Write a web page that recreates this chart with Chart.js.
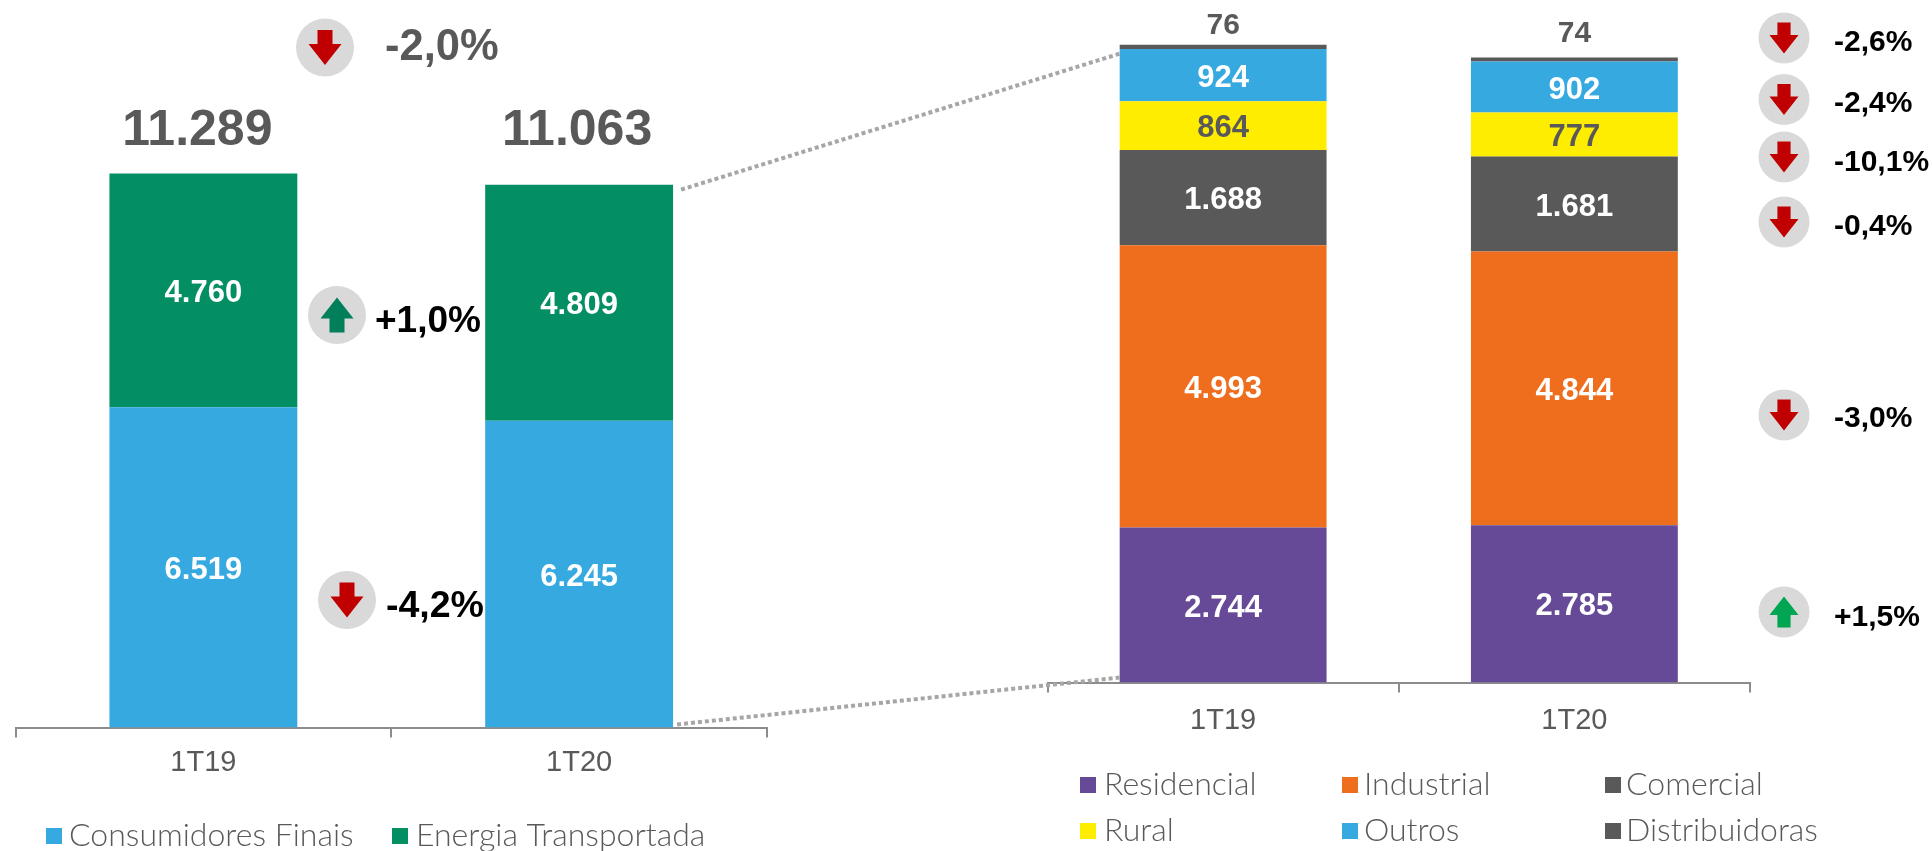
<!DOCTYPE html>
<html lang="pt">
<head>
<meta charset="utf-8">
<title>Energia</title>
<script src="https://cdn.jsdelivr.net/npm/chart.js@4"></script>
<style>
    html, body { margin: 0; padding: 0; background: #fff; overflow: hidden; }
    #wrap { position: relative; width: 1932px; height: 851px; }
    canvas { position: absolute; left: 0; top: 0; }
</style>
</head>
<body>
<div id="wrap">
    <canvas id="leftChart" width="1932" height="851"></canvas>
    <canvas id="rightChart" width="1932" height="851"></canvas>
</div>
<script>
// Data
const periods = ["1T19", "1T20"];

const consumidoresFinais = [6519, 6245];
const energiaTransportada = [4760, 4809];
const totalLabels = ["11.289", "11.063"];

const residencial = [2744, 2785];
const industrial = [4993, 4844];
const comercial = [1688, 1681];
const rural = [864, 777];
const outros = [924, 902];
const distribuidoras = [76, 74];

const changeTotal = "-2,0%";
const changeLeft = ["-4,2%", "+1,0%"];
const changeRight = ["+1,5%", "-3,0%", "-0,4%", "-10,1%", "-2,4%", "-2,6%"];

// Colours
const BLUE = "#36A9E1";
const GREEN = "#038F63";
const PURPLE = "#674A97";
const ORANGE = "#EF6E1E";
const GREY = "#595959";
const YELLOW = "#FFED00";
const AXIS = "#8C8C8C";
const BADGE = "#D9D9D9";
const ARROW_DOWN = "#C00000";
const ARROW_UP_DARK = "#007F5A";
const ARROW_UP = "#00A651";

const SANS = "'Liberation Sans', Arial, sans-serif";
const LEGEND_FONT = "300 32px Lato, sans-serif";

function fmt(n) {
    return n.toLocaleString("de-DE");
}

function text(ctx, str, x, y, font, color, align) {
    ctx.font = font;
    ctx.fillStyle = color;
    ctx.textAlign = align || "center";
    ctx.textBaseline = "middle";
    ctx.fillText(str, x, y);
}

// Grey badge with an arrow inside
function badge(ctx, cx, cy, d, up, color) {
    ctx.fillStyle = BADGE;
    ctx.beginPath();
    ctx.arc(cx, cy, d / 2, 0, Math.PI * 2);
    ctx.fill();

    const s = d / 58;
    const dir = up ? -1 : 1;
    const tip = cy + dir * 17.5 * s;
    const back = cy - dir * 17.5 * s;
    const neck = cy - dir * 3.5 * s;
    ctx.fillStyle = color;
    ctx.beginPath();
    ctx.moveTo(cx - 7.5 * s, back);
    ctx.lineTo(cx + 7.5 * s, back);
    ctx.lineTo(cx + 7.5 * s, neck);
    ctx.lineTo(cx + 16.5 * s, neck);
    ctx.lineTo(cx, tip);
    ctx.lineTo(cx - 16.5 * s, neck);
    ctx.lineTo(cx - 7.5 * s, neck);
    ctx.closePath();
    ctx.fill();
}

// Values in the middle of each segment
function segmentLabels(chart, ctx, font) {
    chart.data.datasets.forEach((ds, i) => {
        if (ds.skipLabel) return;
        chart.getDatasetMeta(i).data.forEach((bar, j) => {
            const mid = (bar.y + bar.base) / 2 + 3;
            text(ctx, fmt(ds.data[j]), bar.x, mid, font, ds.labelColor);
        });
    });
}

function legendItem(ctx, ds, boxX, boxY, textX) {
    ctx.fillStyle = ds.backgroundColor;
    ctx.fillRect(boxX, boxY, 16, 16);
    text(ctx, ds.label, textX, boxY + 8, LEGEND_FONT, GREY, "left");
}

const leftAnnotations = {
    id: "leftAnnotations",
    afterDraw(chart) {
        const ctx = chart.ctx;
        segmentLabels(chart, ctx, "bold 31px " + SANS);

        const totalShift = [-6, -2];
        chart.getDatasetMeta(1).data.forEach((bar, i) => {
            text(ctx, totalLabels[i], bar.x + totalShift[i], 131, "bold 50px " + SANS, GREY);
        });

        badge(ctx, 325, 47.5, 58, false, ARROW_DOWN);
        text(ctx, changeTotal, 385, 48, "bold 43.5px " + SANS, GREY, "left");

        badge(ctx, 337, 315, 58, true, ARROW_UP_DARK);
        text(ctx, changeLeft[1], 375, 322, "bold 37px " + SANS, "#000", "left");

        badge(ctx, 347, 600, 58, false, ARROW_DOWN);
        text(ctx, changeLeft[0], 386, 607, "bold 37.5px " + SANS, "#000", "left");

        const ds = chart.data.datasets;
        legendItem(ctx, ds[0], 46, 828, 69);
        legendItem(ctx, ds[1], 392, 828, 416);
    }
};

const rightAnnotations = {
    id: "rightAnnotations",
    afterDraw(chart) {
        const ctx = chart.ctx;
        segmentLabels(chart, ctx, "bold 31px " + SANS);

        // Distribuidoras sits above the stack
        const topMeta = chart.getDatasetMeta(5).data;
        topMeta.forEach((bar, i) => {
            const y = bar.y - (i === 0 ? 19 : 24);
            text(ctx, fmt(distribuidoras[i]), bar.x, y, "bold 30px " + SANS, GREY);
        });

        // Percentages, bottom segment first
        const badgeY = [612, 415, 222, 157, 99.5, 38];
        const labelY = [618, 419, 227, 163, 104, 43];
        changeRight.forEach((c, i) => {
            const up = c[0] === "+";
            badge(ctx, 1784, badgeY[i], 51, up, up ? ARROW_UP : ARROW_DOWN);
            text(ctx, c, 1834, labelY[i], "bold 30px " + SANS, "#000", "left");
        });

        // Legend in three columns
        const ds = chart.data.datasets;
        const cols = [[1080, 1104], [1342, 1364], [1605, 1626]];
        const rows = [777, 823];
        ds.forEach((d, i) => {
            const c = cols[i % 3];
            legendItem(ctx, d, c[0], rows[Math.floor(i / 3)], c[1]);
        });

        // Dotted connectors between both charts
        const aTop = leftChart.getDatasetMeta(1).data[1];
        const aBottom = leftChart.getDatasetMeta(0).data[1];
        const bTop = chart.getDatasetMeta(5).data[0];
        const bBottom = chart.getDatasetMeta(0).data[0];
        ctx.save();
        ctx.strokeStyle = "#A6A6A6";
        ctx.lineWidth = 4;
        ctx.setLineDash([4, 3]);
        ctx.beginPath();
        ctx.moveTo(aTop.x + aTop.width / 2 + 8, aTop.y + 5);
        ctx.lineTo(bTop.x - bTop.width / 2, bTop.y + 9);
        ctx.moveTo(aBottom.x + aBottom.width / 2 + 4, aBottom.base - 3);
        ctx.lineTo(bBottom.x - bBottom.width / 2, bBottom.base - 5);
        ctx.stroke();
        ctx.restore();
    }
};

function chartOptions(pad, yMax, barWidth, xHeight, tickPadding) {
    return {
        responsive: false,
        animation: false,
        events: [],
        layout: { padding: pad },
        plugins: { legend: { display: false }, tooltip: { enabled: false } },
        datasets: { bar: { categoryPercentage: 1, barPercentage: barWidth } },
        scales: {
            x: {
                stacked: true,
                afterFit: s => { s.height = xHeight; },
                border: { color: AXIS, width: 2 },
                grid: {
                    color: AXIS,
                    lineWidth: 2,
                    drawOnChartArea: false,
                    drawTicks: true,
                    tickLength: 10
                },
                ticks: {
                    color: GREY,
                    padding: tickPadding,
                    maxRotation: 0,
                    font: { family: "Liberation Sans", size: 29 }
                }
            },
            y: { stacked: true, display: false, min: 0, max: yMax }
        }
    };
}

const leftChart = new Chart(document.getElementById("leftChart"), {
    type: "bar",
    data: {
        labels: periods,
        datasets: [
            { label: "Consumidores Finais", data: consumidoresFinais, backgroundColor: BLUE, labelColor: "#fff" },
            { label: "Energia Transportada", data: energiaTransportada, backgroundColor: GREEN, labelColor: "#fff" }
        ]
    },
    options: chartOptions({ left: 15.5, right: 1932 - 767, top: 40, bottom: 0 }, 14000, 0.5, 851 - 727.5, 8),
    plugins: [leftAnnotations]
});

new Chart(document.getElementById("rightChart"), {
    type: "bar",
    data: {
        labels: periods,
        datasets: [
            { label: "Residencial", data: residencial, backgroundColor: PURPLE, labelColor: "#fff" },
            { label: "Industrial", data: industrial, backgroundColor: ORANGE, labelColor: "#fff" },
            { label: "Comercial", data: comercial, backgroundColor: GREY, labelColor: "#fff" },
            { label: "Rural", data: rural, backgroundColor: YELLOW, labelColor: GREY },
            { label: "Outros", data: outros, backgroundColor: BLUE, labelColor: "#fff" },
            { label: "Distribuidoras", data: distribuidoras, backgroundColor: GREY, skipLabel: true }
        ]
    },
    options: chartOptions({ left: 1047.5, right: 1932 - 1750, top: 4.5, bottom: 0 }, 12000, 0.589, 851 - 682.5, 11),
    plugins: [rightAnnotations]
});
</script>
</body>
</html>
